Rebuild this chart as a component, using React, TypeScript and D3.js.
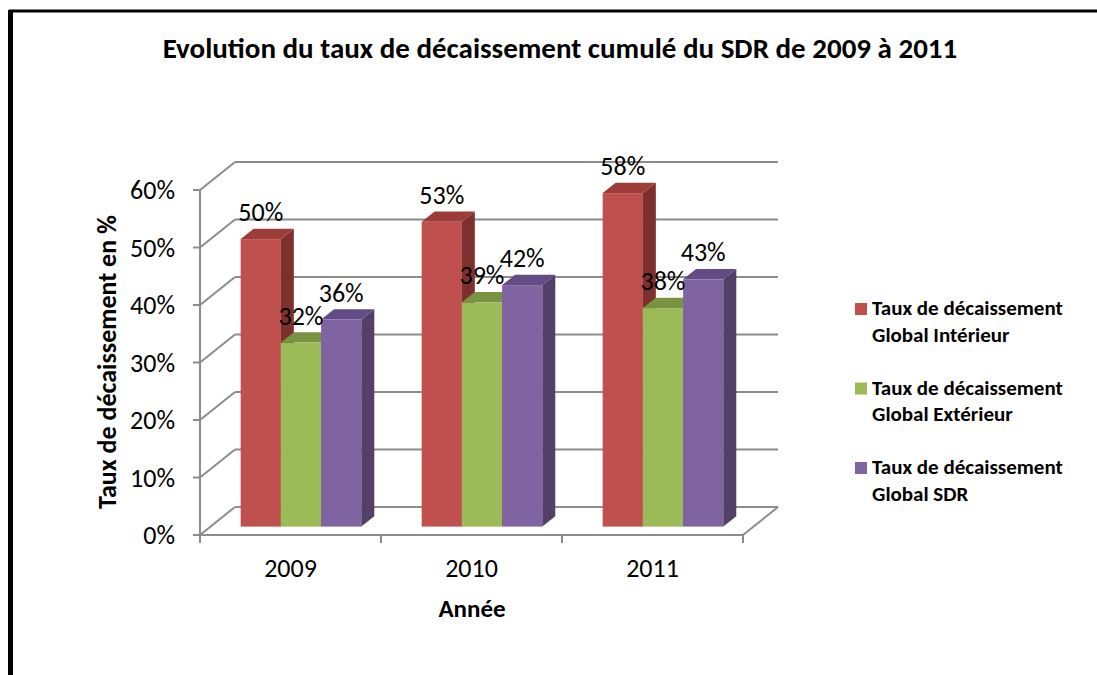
import React from 'react';
import * as d3 from 'd3';

const years = ['2009', '2010', '2011'];
const seriesKeys = ['interieur', 'exterieur', 'sdr'];
const legendLines = [
  ['Taux de décaissement', 'Global Intérieur'],
  ['Taux de décaissement', 'Global Extérieur'],
  ['Taux de décaissement', 'Global SDR'],
];
const interieur = [0.5, 0.53, 0.58];
const exterieur = [0.32, 0.39, 0.38];
const sdr = [0.36, 0.42, 0.43];
const yTicks = [0, 0.1, 0.2, 0.3, 0.4, 0.5, 0.6];
const title = 'Evolution du taux de décaissement cumulé du SDR de 2009 à 2011';
const yTitle = 'Taux de décaissement en %';
const xTitle = 'Année';

const frontColors = ['#C0504D', '#9BBB59', '#8064A2'];
const topColors = ['#9D3D3A', '#789341', '#634C85'];
const sideColors = ['#7E302E', '#64793A', '#524068'];

const FONT = 'Calibri, Carlito, Lato, "Open Sans", sans-serif';

export default function App() {
  const W = 1097, H = 675;
  const X0 = 200, X1 = 743;
  const DX = 35, DY = 28;
  const d0 = 0.3, d1 = 0.67;
  const y = d3.scaleLinear().domain([0, 0.6]).range([535, 190]);
  const xb = d3.scaleBand().domain(years).range([X0, X1]).paddingInner(0).paddingOuter(0);
  const bw = xb.bandwidth();
  const gap = (bw * 1.5) / 4.5;
  const xs = d3.scaleBand().domain(seriesKeys).range([gap / 2, bw - gap / 2]).padding(0);
  const values = [interieur, exterieur, sdr];
  const fmt = d3.format('.0%');
  const grid = '#8c8c8c';

  const bars: JSX.Element[] = [];
  const labels: JSX.Element[] = [];
  years.forEach((yr, i) => {
    seriesKeys.forEach((k, s) => {
      const v = values[s][i];
      const xl = (xb(yr) as number) + (xs(k) as number) + d0 * DX;
      const xr = xl + xs.bandwidth();
      const yt = y(v) - d0 * DY;
      const yb = y(0) - d0 * DY;
      const ddx = (d1 - d0) * DX, ddy = (d1 - d0) * DY;
      bars.push(
        <g key={yr + k}>
          <rect x={xl} y={yt} width={xr - xl} height={yb - yt} fill={frontColors[s]} />
          <polygon
            points={`${xr},${yt} ${xr + ddx},${yt - ddy} ${xr + ddx},${yb - ddy} ${xr},${yb}`}
            fill={sideColors[s]}
          />
          <polygon
            points={`${xl},${yt} ${xl + ddx},${yt - ddy} ${xr + ddx},${yt - ddy} ${xr},${yt}`}
            fill={topColors[s]}
          />
        </g>
      );
      labels.push(
        <text key={'l' + yr + k} x={(xl + xr) / 2} y={yt - 18} textAnchor="middle" fontSize={26} fontFamily={FONT} fill="#000">
          {fmt(v)}
        </text>
      );
    });
  });

  return (
    <svg width={W} height={H} style={{ position: 'absolute', left: 0, top: 0, background: '#fff' }}>
      <rect x={0} y={0} width={W} height={H} fill="#fff" />
      <path d={`M10.5,${H} V11 H${W}`} fill="none" stroke="#000" strokeWidth={3} />
      <line x1={10.5} x2={10.5} y1={10} y2={H} stroke="#000" strokeWidth={5} />
      <text x={560} y={58} textAnchor="middle" fontSize={29} fontWeight="bold" fontFamily={FONT}>
        {title}
      </text>

      {yTicks.map((t) => (
        <g key={'g' + t}>
          <line x1={X0 + DX} x2={X1 + DX} y1={y(t) - DY} y2={y(t) - DY} stroke={grid} strokeWidth={2} />
          <line x1={X0} x2={X0 + DX} y1={y(t)} y2={y(t) - DY} stroke={grid} strokeWidth={2} />
          <line x1={X0 - 7} x2={X0} y1={y(t)} y2={y(t)} stroke={grid} strokeWidth={2} />
          <text x={175} y={y(t)} dy="0.35em" textAnchor="end" fontSize={26} fontFamily={FONT}>
            {fmt(t)}
          </text>
        </g>
      ))}
      <line x1={X0} x2={X0} y1={y(0.6)} y2={y(0)} stroke={grid} strokeWidth={2} />
      <line x1={X0} x2={X1} y1={y(0)} y2={y(0)} stroke={grid} strokeWidth={2} />
      <line x1={X1} x2={X1 + DX} y1={y(0)} y2={y(0) - DY} stroke={grid} strokeWidth={2} />
      {[...years.map((yr) => xb(yr) as number), X1].map((xv, i) => (
        <line key={'t' + i} x1={xv} x2={xv} y1={y(0)} y2={y(0) + 8} stroke={grid} strokeWidth={2} />
      ))}

      {bars}
      {labels}

      {years.map((yr) => (
        <text key={'x' + yr} x={(xb(yr) as number) + bw / 2} y={577} textAnchor="middle" fontSize={26} fontFamily={FONT}>
          {yr}
        </text>
      ))}
      <text x={472} y={617} textAnchor="middle" fontSize={25} fontWeight="bold" fontFamily={FONT}>
        {xTitle}
      </text>
      <text
        transform={`translate(116,362) rotate(-90)`}
        textAnchor="middle"
        fontSize={26}
        fontWeight="bold"
        fontFamily={FONT}
      >
        {yTitle}
      </text>

      {legendLines.map((lines, i) => {
        const top = 303 + i * 79.5;
        return (
          <g key={'lg' + i}>
            <rect x={855} y={top} width={12} height={12} fill={frontColors[i]} />
            <text x={872} y={top + 12} fontSize={21} fontWeight="bold" fontFamily={FONT}>
              {lines[0]}
            </text>
            <text x={872} y={top + 38.5} fontSize={21} fontWeight="bold" fontFamily={FONT}>
              {lines[1]}
            </text>
          </g>
        );
      })}
    </svg>
  );
}
